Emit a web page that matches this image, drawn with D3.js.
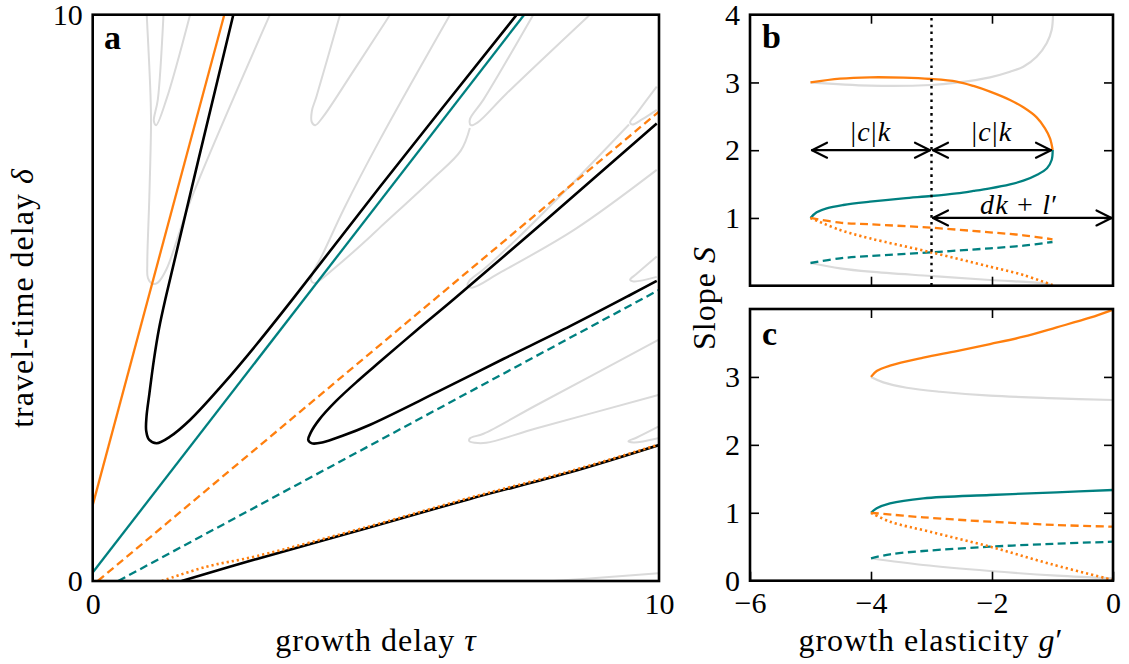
<!DOCTYPE html>
<html>
<head>
<meta charset="utf-8">
<script src="https://cdn.jsdelivr.net/npm/d3@7"></script>
<style>
  body { margin: 0; background: #fff; }
  svg { display: block; }
  svg text { font-family: "Liberation Serif", "DejaVu Serif", serif; }
</style>
</head>
<body>
<svg id="fig" width="1129" height="664"></svg>
<script>
// ---------- Panel a: (growth delay tau, travel-time delay delta) ----------
const orangeSolidA  = [[0, 1.34], [2.324, 10]];
const tealSolidA    = [[0, 0.15], [7.62, 10]];
const orangeDashedA = [[0.09, 0], [10, 8.29]];
const tealDashedA   = [[0.45, 0], [10, 5.14]];
const orangeDottedA = [[1.22, 0], [2.0, 0.25], [2.9, 0.44], [4.9, 0.97], [6.66, 1.47], [8.43, 1.94], [10, 2.41]];
const blackBaseA    = [[1.57, 0], [2.9, 0.39], [4.9, 0.95], [6.66, 1.45], [8.43, 1.92], [10, 2.40]];
const blackTongue1  = [[2.483, 10], [1.3, 5.05], [1.17, 4.45], [1.08, 3.9], [1.0, 3.3], [0.95, 2.9], [0.945, 2.65],
                       [0.999, 2.49], [1.13, 2.432], [1.365, 2.548], [1.718, 2.843], [2.306, 3.48], [2.896, 4.18],
                       [3.542, 4.99], [5.073, 6.963], [7.487, 10]];
const blackTongue2  = [[9.96, 8.08], [8.0, 6.37], [6.37, 4.97], [5.7, 4.41], [5.07, 3.87], [4.7, 3.55], [4.3, 3.18],
                       [4.0, 2.85], [3.85, 2.62], [3.807, 2.49], [3.873, 2.43], [4.07, 2.45], [4.4, 2.56], [4.9, 2.76],
                       [6.07, 3.33], [7.25, 3.92], [8.43, 4.50], [9.49, 5.05], [9.96, 5.30]];
// faint tongues of the higher branches
const greyTongue12 = [[0.954, 10], [1.02, 8.6], [1.03, 8.09], [1.0, 6.78], [0.964, 5.6], [0.975, 5.35], [1.05, 5.25],
                      [1.15, 5.27], [1.3, 5.5], [1.72, 6.7], [3.13, 10]];
const greyTongue13 = [[1.25, 10], [1.15, 8.5], [1.08, 8.12], [1.12, 8.05], [1.3, 8.5], [1.72, 10]];
const greyTongue22 = [[6.31, 10], [5.07, 7.79], [4.45, 6.6], [4.05, 5.75], [3.87, 5.4], [3.86, 5.3], [3.92, 5.26],
                      [4.3, 5.55], [4.9, 6.08], [5.07, 6.24], [6.0, 7.1], [6.5, 7.6], [6.66, 8.0]];
const greyTongue23 = [[4.367, 10], [3.95, 8.55], [3.87, 8.3], [3.87, 8.1], [3.93, 8.05], [4.07, 8.2], [4.6, 9.0],
                      [5.07, 9.72], [5.25, 10]];
const greyTongue31 = [[9.988, 4.256], [7.84, 3.108], [6.9, 2.6], [6.663, 2.52], [6.65, 2.47], [6.75, 2.44], [6.95, 2.44],
                      [7.84, 2.696], [9.988, 3.284]];
const greyTongue32 = [[9.47, 8.06], [8.5, 7.05], [7.5, 6.05], [6.9, 5.5], [6.65, 5.3], [6.62, 5.22], [6.7, 5.18],
                      [7.2, 5.45], [8.5, 6.2], [9.96, 7.26]];
const greyTongue33 = [[7.78, 10], [6.9, 8.5], [6.66, 8.15], [6.68, 8.05], [6.8, 8.1], [7.3, 8.6], [8.78, 10]];
const greyTongue41 = [[9.988, 2.725], [9.6, 2.53], [9.46, 2.47], [9.55, 2.445], [9.988, 2.52]];
const greyTongue42 = [[9.96, 5.73], [9.6, 5.42], [9.49, 5.32], [9.55, 5.29], [9.96, 5.37]];
const greyTongue43 = [[9.96, 8.73], [9.6, 8.25], [9.49, 8.1], [9.53, 8.06], [9.7, 8.15], [9.96, 8.32]];
const greyBaseA    = [[8.13, 0], [9.0, 0.06], [9.99, 0.135]];
const ticksA = [0, 10];

// ---------- Panels b and c: (growth elasticity g', slope S) ----------
const orangeSolidB = [[-5.0, 3.0], [-4.512, 3.056], [-4.017, 3.076], [-3.466, 3.071], [-3.008, 3.051], [-2.584, 3.012],
                      [-2.308, 2.948], [-2.033, 2.864], [-1.702, 2.741], [-1.482, 2.633], [-1.262, 2.485],
                      [-1.124, 2.323], [-1.041, 2.175], [-0.997, 2.003]];
const tealSolidB   = [[-0.997, 2.003], [-1.014, 1.855], [-1.091, 1.733], [-1.262, 1.634], [-1.482, 1.55],
                      [-1.702, 1.496], [-2.033, 1.437], [-2.308, 1.398], [-2.584, 1.363], [-3.008, 1.324],
                      [-3.466, 1.29], [-4.017, 1.24], [-4.457, 1.191], [-4.733, 1.142], [-4.898, 1.083], [-5.0, 1.0]];
const orangeDashedB = [[-5.0, 1.0], [-4.512, 0.93], [-4.017, 0.906], [-3.008, 0.856], [-2.033, 0.788], [-1.482, 0.744], [-1.0, 0.685]];
const tealDashedB   = [[-5.0, 0.335], [-4.512, 0.404], [-4.017, 0.438], [-3.008, 0.493], [-2.033, 0.552], [-1.482, 0.591], [-1.0, 0.645]];
const orangeDottedB = [[-5.0, 1.0], [-4.512, 0.822], [-4.017, 0.699], [-3.008, 0.493], [-2.033, 0.281], [-1.482, 0.158], [-1.0, 0.01]];
const greyLowB  = [[-5.0, 0.335], [-4.512, 0.256], [-4.017, 0.207], [-3.008, 0.143], [-2.033, 0.084], [-1.151, 0.035], [-0.99, 0.01]];
const greyHighB = [[-5.0, 3.0], [-4.017, 2.952], [-3.008, 2.962], [-2.584, 2.997], [-2.033, 3.076], [-1.702, 3.159],
                   [-1.482, 3.233], [-1.262, 3.38], [-1.096, 3.578], [-1.014, 3.774], [-0.99, 4.05]];

const orangeSolidC  = [[-4.0, 3.0], [-3.906, 3.087], [-3.686, 3.165], [-3.135, 3.283], [-2.584, 3.381], [-2.033, 3.484],
                       [-1.482, 3.592], [-0.931, 3.73], [-0.38, 3.872], [0, 3.99]];
const greyHighC     = [[-4.0, 3.0], [-3.796, 2.92], [-3.41, 2.841], [-2.86, 2.782], [-2.033, 2.724], [-0.931, 2.685], [0, 2.66]];
const tealSolidC    = [[-4.0, 1.0], [-3.906, 1.066], [-3.686, 1.139], [-3.135, 1.213], [-2.033, 1.262], [-0.931, 1.301], [0, 1.335]];
const orangeDashedC = [[-4.0, 1.0], [-3.135, 0.933], [-2.033, 0.869], [-0.931, 0.82], [0, 0.795]];
const tealDashedC   = [[-4.0, 0.33], [-3.686, 0.389], [-3.135, 0.437], [-2.033, 0.501], [-0.931, 0.545], [0, 0.574]];
const orangeDottedC = [[-4.0, 1.0], [-3.686, 0.869], [-3.025, 0.721], [-2.033, 0.501], [-1.014, 0.241], [0, 0.01]];
const greyLowC      = [[-4.0, 0.33], [-3.135, 0.231], [-2.033, 0.143], [-0.931, 0.074], [0, 0.035]];

const dividerG = -3;
const arrowSpans = [
  { from: -5, to: -3, s: 2 },
  { from: -3, to: -1, s: 2 },
  { from: -3, to: 0,  s: 1 }
];
const ticksGLabels = [-6, -4, -2, 0];
const ticksGInner  = [-4, -2];
const ticksSB = [1, 2, 3, 4];
const ticksSC = [0, 1, 2, 3];
const ticksSInner = [1, 2, 3];

// ---------- styles ----------
const ORANGE = "#ff7f0e", TEAL = "#008080", GREY = "#dadada", BLACK = "#000";
const SERIF = "\"Liberation Serif\", \"DejaVu Serif\", serif";
const DASH = "8,4.5", DOT = "2.2,3";

const svg = d3.select("#fig");

// ---------- scales ----------
const xA = d3.scaleLinear().domain([0, 10]).range([92.7, 659]);
const yA = d3.scaleLinear().domain([0, 10]).range([581, 14.7]);
const xB = d3.scaleLinear().domain([-6, 0]).range([750, 1113]);
const yB = d3.scaleLinear().domain([0, 4]).range([285.7, 14.7]);
const yC = d3.scaleLinear().domain([0, 4]).range([580.7, 309]);

const defs = svg.append("defs");
function clipFor(id, x, y) {
  const [x0, x1] = x.range(), [y1, y0] = y.range();
  defs.append("clipPath").attr("id", id).append("rect")
    .attr("x", x0).attr("y", y0).attr("width", x1 - x0).attr("height", y1 - y0);
  return svg.append("g").attr("clip-path", `url(#${id})`);
}

function drawCurve(g, x, y, data, color, width, dash) {
  const line = d3.line().x(d => x(d[0])).y(d => y(d[1])).curve(d3.curveCatmullRom.alpha(0.5));
  g.append("path").attr("d", line(data)).attr("fill", "none")
    .attr("stroke", color).attr("stroke-width", width)
    .attr("stroke-dasharray", dash || null)
    .attr("stroke-linejoin", "round");
}

function styleAxis(g) {
  g.attr("font-family", null).attr("font-size", null);
  g.select(".domain").remove();
  g.selectAll(".tick line").attr("stroke", BLACK).attr("stroke-width", 1.6);
  g.selectAll(".tick text").attr("fill", BLACK)
    .style("font-family", SERIF).style("font-size", "30px");
}

function frame(x, y) {
  const [x0, x1] = x.range(), [y1, y0] = y.range();
  svg.append("rect").attr("x", x0).attr("y", y0).attr("width", x1 - x0).attr("height", y1 - y0)
    .attr("fill", "none").attr("stroke", BLACK).attr("stroke-width", 2.6);
}

// ---------- panel a ----------
const gA = clipFor("clipA", xA, yA);
[greyTongue12, greyTongue13, greyTongue22, greyTongue23, greyTongue31, greyTongue32, greyTongue33,
 greyTongue41, greyTongue42, greyTongue43, greyBaseA].forEach(d => drawCurve(gA, xA, yA, d, GREY, 2));
[blackTongue1, blackTongue2, blackBaseA].forEach(d => drawCurve(gA, xA, yA, d, BLACK, 2.6));
drawCurve(gA, xA, yA, orangeSolidA, ORANGE, 2.3);
drawCurve(gA, xA, yA, tealSolidA, TEAL, 2.3);
drawCurve(gA, xA, yA, orangeDashedA, ORANGE, 2.3, DASH);
drawCurve(gA, xA, yA, tealDashedA, TEAL, 2.3, DASH);
drawCurve(gA, xA, yA, orangeDottedA, ORANGE, 2.6, DOT);

svg.append("g").attr("transform", `translate(0,${yA.range()[0]})`)
  .call(d3.axisBottom(xA).tickValues(ticksA).tickSize(0).tickPadding(12).tickFormat(d3.format("d")))
  .call(styleAxis);
svg.append("g").attr("transform", `translate(${xA.range()[0]},0)`)
  .call(d3.axisLeft(yA).tickValues(ticksA).tickSize(0).tickPadding(10).tickFormat(d3.format("d")))
  .call(styleAxis);
frame(xA, yA);

// ---------- panel b ----------
const gB = clipFor("clipB", xB, yB);
drawCurve(gB, xB, yB, greyHighB, GREY, 2.2);
drawCurve(gB, xB, yB, greyLowB, GREY, 2.2);
drawCurve(gB, xB, yB, orangeSolidB, ORANGE, 2.3);
drawCurve(gB, xB, yB, tealSolidB, TEAL, 2.3);
drawCurve(gB, xB, yB, tealDashedB, TEAL, 2.3, DASH);
drawCurve(gB, xB, yB, orangeDashedB, ORANGE, 2.3, DASH);
drawCurve(gB, xB, yB, orangeDottedB, ORANGE, 2.6, DOT);

// dotted divider at g' = -3
gB.append("line").attr("x1", xB(dividerG)).attr("x2", xB(dividerG))
  .attr("y1", yB(0)).attr("y2", yB(4))
  .attr("stroke", BLACK).attr("stroke-width", 2.4).attr("stroke-dasharray", "2.6,4.2");

// double-headed arrows
const arrowG = svg.append("g").attr("stroke", BLACK).attr("fill", "none").attr("stroke-width", 2.2)
  .attr("stroke-linecap", "round").attr("stroke-linejoin", "round");
arrowSpans.forEach(a => {
  const x0 = xB(a.from), x1 = xB(a.to), y = yB(a.s);
  const pad = 1.5, L = 15, H = 7.5;
  arrowG.append("line").attr("x1", x0 + pad).attr("x2", x1 - pad).attr("y1", y).attr("y2", y);
  arrowG.append("path").attr("d", `M${x0 + pad + L},${y - H}L${x0 + pad},${y}L${x0 + pad + L},${y + H}`);
  arrowG.append("path").attr("d", `M${x1 - pad - L},${y - H}L${x1 - pad},${y}L${x1 - pad - L},${y + H}`);
});

function mathLabel(x, y, parts) {
  const t = svg.append("text").attr("x", x).attr("y", y).attr("text-anchor", "middle")
    .style("font-family", SERIF).style("font-size", "28px").attr("fill", BLACK).attr("letter-spacing", 1.2);
  parts.forEach(([s, it]) => t.append("tspan").attr("font-style", it ? "italic" : "normal").text(s));
}
mathLabel(xB(-4), 141, [["|", 0], ["c", 1], ["|", 0], ["k", 1]]);
mathLabel(xB(-2), 141, [["|", 0], ["c", 1], ["|", 0], ["k", 1]]);
mathLabel(xB(-1.55), 214, [["dk", 1], [" + ", 0], ["l", 1], ["\u2032", 0]]);

svg.append("g").attr("transform", `translate(${xB.range()[0]},0)`)
  .call(d3.axisLeft(yB).tickValues(ticksSB).tickSizeInner(-9).tickSizeOuter(0).tickPadding(10).tickFormat(d3.format("d")))
  .call(styleAxis);
svg.append("g").attr("transform", `translate(${xB.range()[1]},0)`)
  .call(d3.axisRight(yB).tickValues(ticksSInner).tickSize(-9).tickFormat(""))
  .call(styleAxis);
svg.append("g").attr("transform", `translate(0,${yB.range()[1]})`)
  .call(d3.axisTop(xB).tickValues(ticksGInner).tickSize(-9).tickFormat(""))
  .call(styleAxis);
svg.append("g").attr("transform", `translate(0,${yB.range()[0]})`)
  .call(d3.axisBottom(xB).tickValues(ticksGInner).tickSize(-9).tickFormat(""))
  .call(styleAxis);
frame(xB, yB);

// ---------- panel c ----------
const gC = clipFor("clipC", xB, yC);
drawCurve(gC, xB, yC, greyHighC, GREY, 2.2);
drawCurve(gC, xB, yC, greyLowC, GREY, 2.2);
drawCurve(gC, xB, yC, orangeSolidC, ORANGE, 2.3);
drawCurve(gC, xB, yC, tealSolidC, TEAL, 2.3);
drawCurve(gC, xB, yC, tealDashedC, TEAL, 2.3, DASH);
drawCurve(gC, xB, yC, orangeDashedC, ORANGE, 2.3, DASH);
drawCurve(gC, xB, yC, orangeDottedC, ORANGE, 2.6, DOT);

svg.append("g").attr("transform", `translate(${xB.range()[0]},0)`)
  .call(d3.axisLeft(yC).tickValues(ticksSC).tickSizeInner(-9).tickSizeOuter(0).tickPadding(10).tickFormat(d3.format("d")))
  .call(styleAxis);
svg.append("g").attr("transform", `translate(${xB.range()[1]},0)`)
  .call(d3.axisRight(yC).tickValues(ticksSInner).tickSize(-9).tickFormat(""))
  .call(styleAxis);
svg.append("g").attr("transform", `translate(0,${yC.range()[1]})`)
  .call(d3.axisTop(xB).tickValues(ticksGInner).tickSize(-9).tickFormat(""))
  .call(styleAxis);
svg.append("g").attr("transform", `translate(0,${yC.range()[0]})`)
  .call(d3.axisBottom(xB).tickValues(ticksGLabels).tickSizeInner(-9).tickSizeOuter(0).tickPadding(11).tickFormat(d3.format("d")))
  .call(styleAxis);
frame(xB, yC);

// ---------- panel letters and axis titles ----------
function panelLetter(x, y, s) {
  svg.append("text").attr("x", x).attr("y", y).style("font-family", SERIF).attr("font-weight", "bold")
    .style("font-size", "34px").attr("fill", BLACK).text(s);
}
panelLetter(104, 49, "a");
panelLetter(762, 48, "b");
panelLetter(762, 345, "c");

function axisTitle(x, y, rotate, parts) {
  const t = svg.append("text").attr("transform", `translate(${x},${y})${rotate ? " rotate(-90)" : ""}`)
    .attr("text-anchor", "middle").style("font-family", SERIF).style("font-size", "32px")
    .attr("letter-spacing", 1).attr("fill", BLACK);
  parts.forEach(([s, it]) => t.append("tspan").attr("font-style", it ? "italic" : "normal").text(s));
}
axisTitle(376, 651, false, [["growth delay ", 0], ["\u03c4", 1]]);
axisTitle(931, 651, false, [["growth elasticity ", 0], ["g", 1], ["\u2032", 0]]);
axisTitle(33, 298, true, [["travel-time delay ", 0], ["\u03b4", 1]]);
axisTitle(715, 298, true, [["Slope ", 0], ["S", 1]]);
</script>
</body>
</html>
